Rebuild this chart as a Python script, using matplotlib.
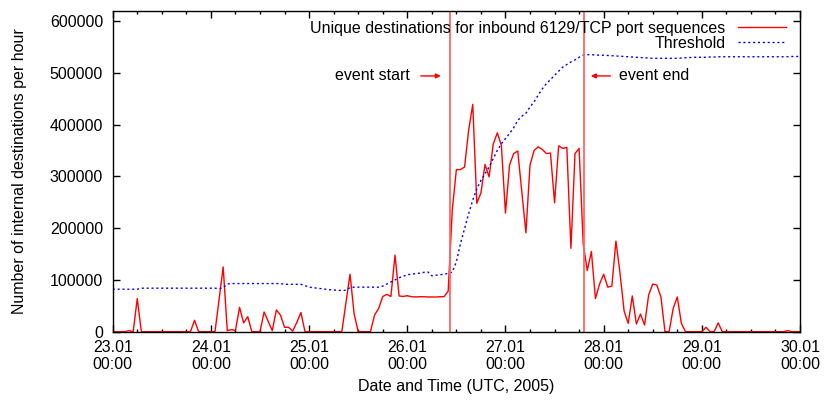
import matplotlib
matplotlib.use("Agg")
import matplotlib.pyplot as plt
import matplotlib.dates as mdates
import pandas as pd
import numpy as np

plt.rcParams['font.family'] = ['Liberation Sans', 'DejaVu Sans']
plt.rcParams['font.size'] = 11.5

# hourly samples, 23.01.2005 00:00 .. 30.01.2005 00:00
unique_dest = [
    # 23.01
    0, 0, 0, 0, 2000, 0, 64000, 0, 0, 0, 0, 0, 0, 0, 0, 0, 0, 0, 0, 0, 22000, 0, 0, 0,
    # 24.01
    0, 0, 62000, 125000, 2000, 4000, 2000, 47000, 17000, 29000, 0, 0, 0, 38000, 20000, 2000,
    42000, 32000, 8500, 8500, 1000, 18000, 37000, 0,
    # 25.01
    0, 0, 0, 0, 0, 0, 0, 0, 0, 55000, 111000, 35000, 0, 0, 0, 0, 32000, 45000, 68000, 72000,
    68000, 148000, 69000, 68000,
    # 26.01
    69500, 67500, 67000, 67500, 67500, 67000, 67000, 67000, 67500, 67500, 78500, 235000,
    313000, 313000, 318000, 389000, 439000, 248000, 268000, 323000, 299000, 362000, 384000, 360000,
    # 27.01
    229000, 322000, 344000, 349000, 270000, 191000, 322000, 350000, 357000, 352000, 344000, 345000,
    249000, 359000, 354000, 356000, 161000, 344000, 354000, 170000, 118000, 155000, 64000, 92000,
    # 28.01
    111000, 86000, 88000, 175000, 113000, 40000, 16000, 69000, 15000, 34000, 13000, 71000,
    92000, 90000, 67000, 0, 0, 45000, 67000, 16000, 0, 0, 0, 0,
    # 29.01 .. 30.01 00:00
    0, 8500, 0, 0, 17000, 0, 0, 0, 0, 0, 0, 0, 0, 0, 0, 0, 0, 0, 0, 0, 0, 2000, 0, 0, 0,
]

threshold = [
    # 23.01
    82000, 82000, 82000, 82000, 82000, 82000, 82000, 84000, 84000, 84000, 84000, 84000,
    84000, 84000, 84000, 84000, 84000, 84000, 84000, 84000, 84000, 84000, 84000, 84000,
    # 24.01
    84000, 84000, 83000, 85000, 92000, 93000, 93000, 93000, 93000, 93000, 93000, 93000,
    93000, 93000, 93000, 93000, 93000, 93000, 91500, 91500, 91500, 91500, 91500, 89000,
    # 25.01
    86000, 85000, 84000, 83000, 82000, 81000, 80500, 80000, 79500, 80000, 85000, 86000,
    86000, 86000, 86000, 86000, 86000, 86000, 88000, 92000, 96000, 100000, 104000, 107000,
    # 26.01
    110000, 111000, 112000, 113000, 114500, 115500, 108000, 109000, 110000, 111000, 112500, 115000,
    135000, 170000, 199000, 228000, 254000, 276000, 292000, 305000, 318000, 334000, 350000, 363000,
    # 27.01
    373000, 383000, 394000, 408000, 416000, 422000, 434000, 444000, 457000, 469000, 479000, 487000,
    495000, 503000, 511000, 516000, 521000, 525000, 530000, 534000, 535000, 535000, 534500, 534000,
    # 28.01
    534000, 533500, 533000, 532500, 532000, 531500, 531000, 530500, 530000, 529500, 529000, 528500,
    528000, 528000, 528000, 528000, 528000, 528000, 528000, 528500, 529000, 529500, 530000, 530000,
    # 29.01 .. 30.01 00:00
    530000, 530000, 530500, 530500, 531000, 531000, 531000, 531000, 531000, 531000, 531000, 531000,
    531000, 531000, 531000, 531000, 531000, 531000, 531000, 531000, 531000, 531000, 531500, 531500, 531500,
]

times = pd.date_range("2005-01-23 00:00", periods=len(unique_dest), freq="h")
event_start = pd.Timestamp("2005-01-26 10:24")
event_end = pd.Timestamp("2005-01-27 19:15")

fig = plt.figure(figsize=(8.24, 4.0), dpi=100)
ax = fig.add_axes([0.1368, 0.1708, 0.9709 - 0.1368, 0.9733 - 0.1708])

ax.plot(times, unique_dest, color='#ff0000', lw=1.0,
        label="Unique destinations for inbound 6129/TCP port sequences")
ax.plot(times, threshold, color='#0000ff', lw=1.0, linestyle=(0, (1.5, 2.0)),
        label="Threshold")

ax.axvline(event_start, color='#ff6464', lw=1.3)
ax.axvline(event_end, color='#ff6464', lw=1.3)

# event markers
y_ann = 494000
h = pd.Timedelta(hours=1)
ax.text(event_start - 9.7 * h, y_ann, "event start", ha='right', va='center')
ax.annotate("", xy=(event_start - 2.2 * h, y_ann), xytext=(event_start - 7.1 * h, y_ann),
            arrowprops=dict(arrowstyle='-|>', color='red', lw=1.0, mutation_scale=7,
                            shrinkA=0, shrinkB=0))
ax.text(event_end + 8.5 * h, y_ann, "event end", ha='left', va='center')
ax.annotate("", xy=(event_end + 1.6 * h, y_ann), xytext=(event_end + 6.4 * h, y_ann),
            arrowprops=dict(arrowstyle='-|>', color='red', lw=1.0, mutation_scale=7,
                            shrinkA=0, shrinkB=0))

ax.set_xlim(pd.Timestamp("2005-01-23"), pd.Timestamp("2005-01-30"))
ax.set_ylim(0, 620000)
ax.set_yticks(np.arange(0, 600001, 100000))

ax.xaxis.set_major_locator(mdates.DayLocator())
ax.xaxis.set_minor_locator(mdates.HourLocator(byhour=[6, 12, 18]))
ax.xaxis.set_major_formatter(mdates.DateFormatter("%d.%m\n%H:%M"))

ax.tick_params(which='both', direction='in', top=True, right=True, colors='black')
ax.tick_params(which='major', length=5, width=1)
ax.tick_params(which='minor', length=2.5, width=1)
ax.tick_params(axis='x', pad=6)
ax.tick_params(axis='y', pad=7)
for s in ax.spines.values():
    s.set_linewidth(1.0)

ax.set_xlabel("Date and Time (UTC, 2005)", labelpad=5)
ax.set_ylabel("Number of internal destinations per hour", labelpad=16)

ax.legend(loc='upper right', frameon=False, markerfirst=False, handlelength=3.0,
          borderaxespad=0.25, labelspacing=0.0, handletextpad=0.8, bbox_to_anchor=(0.995, 1.0))

fig.savefig("out.png", dpi=100)
